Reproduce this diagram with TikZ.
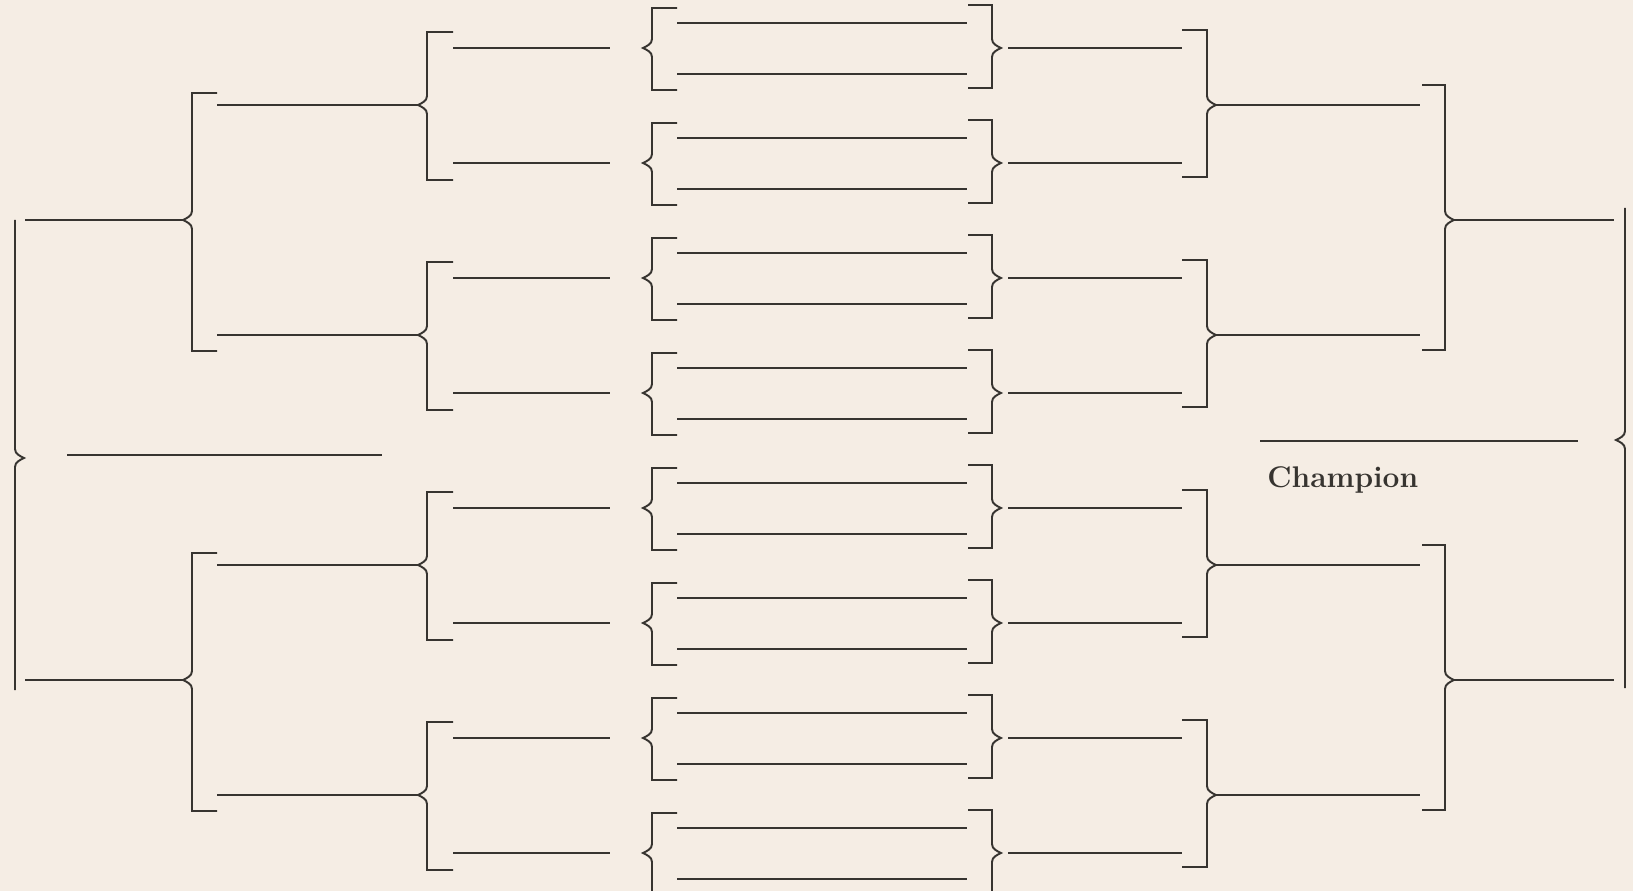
\documentclass[tikz,border=0pt]{standalone}
\usepackage{tikz}
\usetikzlibrary{positioning}
\definecolor{xpaper}{RGB}{245,237,228}
\definecolor{xink}{RGB}{55,52,48}

% bracket opening to the right, tip pointing left
\newcommand{\leftbrk}[6]{%
  \coordinate (#1) at (#2-9,#4);
  \draw[brk] (#6,#3) -- (#2,#3) -- (#2,#4-9)
    .. controls (#2,#4-4) and (#2-5,#4-2) .. (#1)
    .. controls (#2-5,#4+2) and (#2,#4+4) .. (#2,#4+9) -- (#2,#5) -- (#6,#5);}
% bracket opening to the left, tip pointing right
\newcommand{\rightbrk}[6]{%
  \coordinate (#1) at (#2+9,#4);
  \draw[brk] (#6,#3) -- (#2,#3) -- (#2,#4-9)
    .. controls (#2,#4-4) and (#2+5,#4-2) .. (#1)
    .. controls (#2+5,#4+2) and (#2,#4+4) .. (#2,#4+9) -- (#2,#5) -- (#6,#5);}

\begin{document}
\begin{tikzpicture}[
  x=0.02cm, y=-0.02cm,
  brk/.style={draw=xink, line width=1.1pt, line join=miter},
  slot/.style={draw=xink, line width=1.1pt},
  lbl/.style={font=\fontsize{17}{20}\selectfont\bfseries, text=xink, inner sep=0pt}
]
  \useasboundingbox (0,0) rectangle (1633,891);
  \fill[xpaper] (0,0) rectangle (1633,891);
  \clip (0,0) rectangle (1633,891);

  % first round, centre column
  \foreach \k in {0,...,7}{
    \pgfmathtruncatemacro\yc{48+115*\k}
    \leftbrk{dl\k}{652}{\yc-40}{\yc}{\yc+42}{677}
    \rightbrk{dr\k}{992}{\yc-43}{\yc}{\yc+40}{968}
    \draw[slot] (677,\yc-25) -- (967,\yc-25);
    \draw[slot] (677,\yc+26) -- (967,\yc+26);
  }

  % second round
  \foreach \j in {0,...,3}{
    \pgfmathtruncatemacro\ya{48+230*\j}
    \pgfmathtruncatemacro\yb{\ya+115}
    \pgfmathtruncatemacro\ym{\ya+57}
    \leftbrk{cb\j}{427}{\ya-16}{\ym}{\yb+17}{453}
    \draw[slot] (453,\ya) -- (610,\ya);
    \draw[slot] (453,\yb) -- (610,\yb);
    \rightbrk{eb\j}{1207}{\ya-18}{\ym}{\yb+14}{1182}
    \draw[slot] (1008,\ya) -- (1182,\ya);
    \draw[slot] (1008,\yb) -- (1182,\yb);
  }

  % semi-finals
  \foreach \i in {0,1}{
    \pgfmathtruncatemacro\ya{105+460*\i}
    \pgfmathtruncatemacro\yb{\ya+230}
    \pgfmathtruncatemacro\ym{\ya+115}
    \pgfmathtruncatemacro\ja{2*\i}
    \pgfmathtruncatemacro\jb{2*\i+1}
    \leftbrk{bb\i}{192}{\ya-12}{\ym}{\yb+16}{217}
    \draw[slot] (217,\ya) -- (cb\ja);
    \draw[slot] (217,\yb) -- (cb\jb);
    \rightbrk{fb\i}{1445}{\ya-20}{\ym}{\yb+15}{1422}
    \draw[slot] (eb\ja) -- (1420,\ya);
    \draw[slot] (eb\jb) -- (1420,\yb);
  }

  % finals
  \rightbrk{ab}{15}{220}{458}{690}{15}
  \draw[slot] (25,220) -- (bb0);
  \draw[slot] (25,680) -- (bb1);
  \coordinate (al) at (67,455);
  \coordinate (ar) at (382,455);
  \draw[slot] (al) -- (ar);

  \leftbrk{gb}{1625}{208}{440}{688}{1625}
  \draw[slot] (fb0) -- (1614,220);
  \draw[slot] (fb1) -- (1614,680);
  \coordinate (cl) at (1260,441);
  \coordinate (cr) at (1578,441);
  \draw[slot] (cl) -- (cr);
  \node[lbl, anchor=north west] (champ) at (1267,466) {Champion};
\end{tikzpicture}
\end{document}
